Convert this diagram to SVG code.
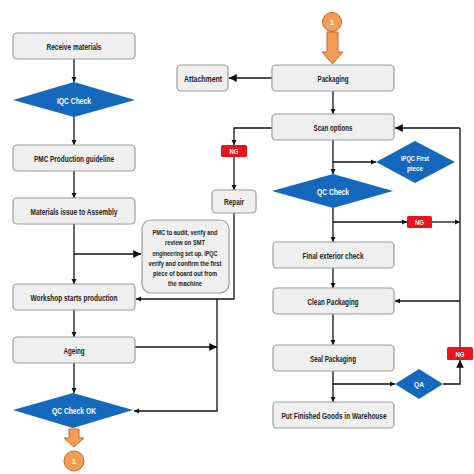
<svg xmlns="http://www.w3.org/2000/svg" width="474" height="474" viewBox="0 0 474 474">
<defs>
<style>
.box{fill:#efefef;stroke:#9c9c9c;stroke-width:1.2}
.dia{fill:#1469bd}
.ng{fill:#e8141b}
.t{font-family:"Liberation Sans",Arial,sans-serif;font-weight:bold;font-size:9.8px;fill:#222;text-anchor:middle}
.w{fill:#ffffff}
.s{font-size:8px}
.ln{fill:none;stroke:#111;stroke-width:1.3}
.a{marker-end:url(#sa)}
.b{marker-end:url(#ba)}
.or{fill:#f39c55;stroke:#c8672a;stroke-width:1}
</style>
<marker id="sa" viewBox="0 0 10 10" refX="10" refY="5" markerWidth="4" markerHeight="4" orient="auto" markerUnits="strokeWidth"><path d="M0,0L10,5L0,10z" fill="#111"/></marker>
<marker id="ba" viewBox="0 0 10 10" refX="10" refY="5" markerWidth="6" markerHeight="6" orient="auto" markerUnits="strokeWidth"><path d="M0,0L10,5L0,10z" fill="#111"/></marker>
</defs>
<rect width="474" height="474" fill="#ffffff"/>

<g id="connectors">
<path class="ln a" d="M74,59V82"/>
<path class="ln a" d="M74,117V145"/>
<path class="ln a" d="M74,171V198"/>
<path class="ln a" d="M74,224V284"/>
<path class="ln b" d="M74,254H141"/>
<path class="ln a" d="M74,310V337"/>
<path class="ln a" d="M74,363V393"/>
<path class="ln a" d="M234,213V299H136"/>
<path class="ln a" d="M217,299V411H134"/>
<path class="ln b" d="M135,347H217"/>
<path class="ln b" d="M272,78H229"/>
<path class="ln a" d="M333,91V114"/>
<path class="ln a" d="M272,128H234V145"/>
<path class="ln a" d="M234,157V190"/>
<path class="ln a" d="M333,140V174"/>
<path class="ln a" d="M333,162H376"/>
<path class="ln a" d="M333,208V242"/>
<path class="ln a" d="M333,222H407"/>
<path class="ln a" d="M432,222H460"/>
<path class="ln" d="M460,128V347"/>
<path class="ln b" d="M460,128H395"/>
<path class="ln a" d="M460,301H395"/>
<path class="ln a" d="M333,268V288"/>
<path class="ln a" d="M333,314V345"/>
<path class="ln a" d="M333,371V402"/>
<path class="ln a" d="M333,384H395"/>
<path class="ln b" d="M443,384H460V360"/>
</g>

<g id="receive"><rect class="box" x="13" y="33" width="122" height="26" rx="4"/><text class="t" x="74" y="49.5" textLength="55" lengthAdjust="spacingAndGlyphs">Receive materials</text></g>
<g id="iqc"><polygon class="dia" points="13,100 74,82 135,100 74,117"/><text class="t w" x="74" y="103.5" textLength="34" lengthAdjust="spacingAndGlyphs">IQC Check</text></g>
<g id="pmc"><rect class="box" x="13" y="145" width="122" height="26" rx="4"/><text class="t" x="74" y="161.5" textLength="80" lengthAdjust="spacingAndGlyphs">PMC Production guideline</text></g>
<g id="issue"><rect class="box" x="13" y="198" width="122" height="26" rx="4"/><text class="t" x="74" y="214.5" textLength="87" lengthAdjust="spacingAndGlyphs">Materials issue to Assembly</text></g>
<g id="note"><rect class="box" x="142" y="220" width="87" height="73" rx="9"/>
<text class="t s" x="185" y="235" textLength="65" lengthAdjust="spacingAndGlyphs">PMC to audit, verify and</text>
<text class="t s" x="185" y="245" textLength="40" lengthAdjust="spacingAndGlyphs">review on SMT</text>
<text class="t s" x="185" y="255.5" textLength="65" lengthAdjust="spacingAndGlyphs">engineering set up. IPQC</text>
<text class="t s" x="185" y="265.5" textLength="73" lengthAdjust="spacingAndGlyphs">verify and confirm the first</text>
<text class="t s" x="185" y="275.5" textLength="64" lengthAdjust="spacingAndGlyphs">piece of board out from</text>
<text class="t s" x="185" y="285.5" textLength="34" lengthAdjust="spacingAndGlyphs">the machine</text></g>
<g id="workshop"><rect class="box" x="13" y="284" width="122" height="26" rx="4"/><text class="t" x="74" y="300.5" textLength="87" lengthAdjust="spacingAndGlyphs">Workshop starts production</text></g>
<g id="ageing"><rect class="box" x="13" y="337" width="122" height="26" rx="4"/><text class="t" x="74" y="353.5" textLength="21" lengthAdjust="spacingAndGlyphs">Ageing</text></g>
<g id="qcok"><polygon class="dia" points="13,410 73,393 133,410 73,428"/><text class="t w" x="74" y="413.5" textLength="44" lengthAdjust="spacingAndGlyphs">QC Check OK</text></g>
<g id="conn-out"><polygon class="or" points="69,429 79,429 79,438 84,438 74,447 64,438 69,438"/><circle class="or" cx="74" cy="461" r="10"/><text class="t w s" x="74" y="464">1</text></g>

<g id="conn-in"><circle class="or" cx="332" cy="22" r="9.5"/><text class="t w s" x="332" y="25">1</text><polygon class="or" points="327,32 338,32 338,52 343,52 332.5,64 322,52 327,52"/></g>
<g id="packaging"><rect class="box" x="272" y="65" width="122" height="26" rx="4"/><text class="t" x="333" y="81.5" textLength="31" lengthAdjust="spacingAndGlyphs">Packaging</text></g>
<g id="attachment"><rect class="box" x="177" y="65" width="51" height="26" rx="4"/><text class="t" x="203" y="81.5" textLength="38" lengthAdjust="spacingAndGlyphs">Attachment</text></g>
<g id="scan"><rect class="box" x="272" y="114" width="122" height="26" rx="4"/><text class="t" x="333" y="130.5" textLength="39" lengthAdjust="spacingAndGlyphs">Scan options</text></g>
<g id="ng1"><rect class="ng" x="221" y="145" width="26" height="12" rx="1.5"/><text class="t w s" x="234" y="154" textLength="9" lengthAdjust="spacingAndGlyphs">NG</text></g>
<g id="repair"><rect class="box" x="212" y="190" width="44" height="23" rx="4"/><text class="t" x="234" y="205" textLength="20" lengthAdjust="spacingAndGlyphs">Repair</text></g>
<g id="ipqc"><polygon class="dia" points="376,162 415,141 455,162 415,183"/><text class="t w s" x="415" y="160.5" textLength="28" lengthAdjust="spacingAndGlyphs">IPQC First</text><text class="t w s" x="415" y="170.5" textLength="16" lengthAdjust="spacingAndGlyphs">piece</text></g>
<g id="qc"><polygon class="dia" points="272,191 333,174 393,191 333,208"/><text class="t w" x="333" y="194.5" textLength="32" lengthAdjust="spacingAndGlyphs">QC Check</text></g>
<g id="ng2"><rect class="ng" x="407" y="216" width="25" height="12" rx="1.5"/><text class="t w s" x="419.5" y="225" textLength="9" lengthAdjust="spacingAndGlyphs">NG</text></g>
<g id="final"><rect class="box" x="273" y="242" width="121" height="26" rx="4"/><text class="t" x="333" y="258.5" textLength="61" lengthAdjust="spacingAndGlyphs">Final exterior check</text></g>
<g id="clean"><rect class="box" x="273" y="288" width="121" height="26" rx="4"/><text class="t" x="333" y="304.5" textLength="51" lengthAdjust="spacingAndGlyphs">Clean Packaging</text></g>
<g id="seal"><rect class="box" x="273" y="345" width="121" height="26" rx="4"/><text class="t" x="333" y="361.5" textLength="46" lengthAdjust="spacingAndGlyphs">Seal Packaging</text></g>
<g id="warehouse"><rect class="box" x="273" y="402" width="121" height="26" rx="4"/><text class="t" x="334" y="418.5" textLength="105" lengthAdjust="spacingAndGlyphs">Put Finished Goods in Warehouse</text></g>
<g id="qa"><polygon class="dia" points="395,384 419,369 443,384 419,399"/><text class="t w s" x="419" y="387" textLength="10" lengthAdjust="spacingAndGlyphs">QA</text></g>
<g id="ng3"><rect class="ng" x="447" y="347" width="26" height="13" rx="1.5"/><text class="t w s" x="460" y="356.5" textLength="9" lengthAdjust="spacingAndGlyphs">NG</text></g>
</svg>
